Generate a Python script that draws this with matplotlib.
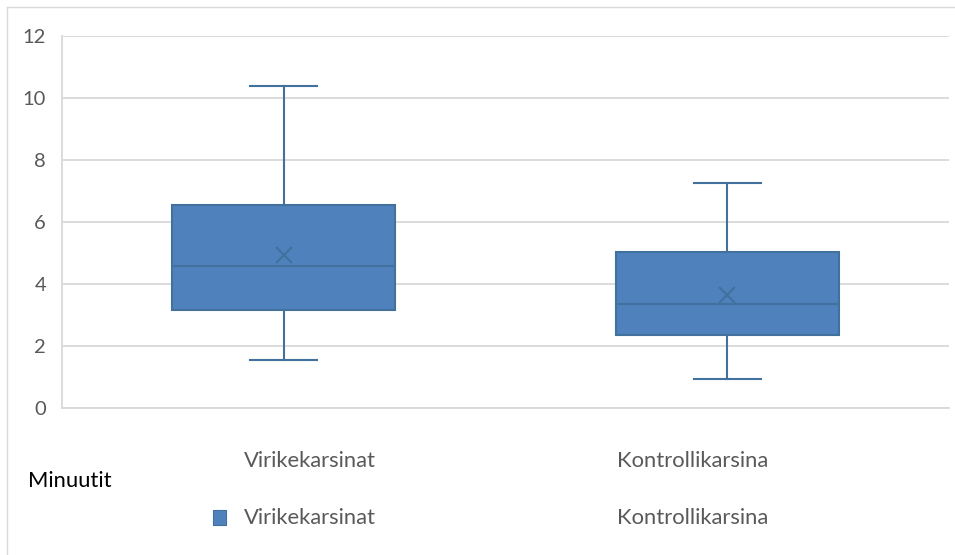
import matplotlib
matplotlib.use("Agg")
import matplotlib.pyplot as plt
from matplotlib.patches import Rectangle
from matplotlib.lines import Line2D

# Data (minutes)
categories = ["Virikekarsinat", "Kontrollikarsina"]
whisker_low = [1.55, 0.93]
q1 = [3.16, 2.35]
median = [4.59, 3.34]
q3 = [6.55, 5.04]
whisker_high = [10.39, 7.27]
means = [4.94, 3.65]
y_ticks = [0, 2, 4, 6, 8, 10, 12]
legend_labels = ["Virikekarsinat", "Kontrollikarsina"]
y_label = "Minuutit"

plt.rcParams['font.family'] = ['Lato', 'DejaVu Sans']

W, H = 955, 555
fig = plt.figure(figsize=(W / 100, H / 100), dpi=100)
ax = fig.add_axes([62 / W, 1 - 408 / H, (949 - 62) / W, (408 - 36) / H])

fill = "#4F81BD"
edge = "#41719C"
grey_text = "#595959"
grid_c = "#D9D9D9"
fs = 15.8

stats = []
for i, c in enumerate(categories):
    stats.append(dict(label=c, whislo=whisker_low[i], q1=q1[i], med=median[i],
                      q3=q3[i], whishi=whisker_high[i], mean=means[i], fliers=[]))

positions = [0.5 + i for i in range(len(categories))]
ax.bxp(stats, positions=positions, widths=0.503, capwidths=0.15, patch_artist=True,
       showmeans=True, manage_ticks=False,
       boxprops=dict(facecolor=fill, edgecolor=edge, linewidth=1.5),
       medianprops=dict(color=edge, linewidth=1.5),
       whiskerprops=dict(color=edge, linewidth=1.5),
       capprops=dict(color=edge, linewidth=1.5),
       meanprops=dict(marker="x", markeredgecolor=edge, markersize=12, markeredgewidth=1.5),
       zorder=3)

ax.set_xlim(0, 2)
ax.set_ylim(0, 12)
ax.set_yticks(y_ticks)
ax.set_yticklabels([str(t) for t in y_ticks])
ax.yaxis.grid(True, color=grid_c, linewidth=1.3, zorder=0)
ax.set_axisbelow(True)
for s in ["top", "right"]:
    ax.spines[s].set_visible(False)
ax.spines["left"].set_color(grid_c)
ax.spines["bottom"].set_color(grid_c)
ax.spines["left"].set_linewidth(1.3)
ax.spines["bottom"].set_linewidth(1.3)
ax.tick_params(axis="y", length=0, labelsize=14.5, labelcolor=grey_text, pad=11.5)
ax.set_xticks([])

# category labels (left-aligned like the reference)
cat_x = [244, 617]
for x, c in zip(cat_x, categories):
    fig.text(x / W, 1 - 461 / H, c, fontsize=fs, color=grey_text, va="center", ha="left")

fig.text(28 / W, 1 - 481 / H, y_label, fontsize=fs, color="#000000", va="center", ha="left")

# legend
fig.patches.append(Rectangle((213 / W, 1 - 525 / H), 13 / W, 15 / H, transform=fig.transFigure,
                             facecolor=fill, edgecolor=edge, linewidth=0.8))
fig.text(244 / W, 1 - 518 / H, legend_labels[0], fontsize=fs, color=grey_text, va="center", ha="left")
fig.text(617 / W, 1 - 518 / H, legend_labels[1], fontsize=fs, color=grey_text, va="center", ha="left")

# chart area frame (left & top)
fig.lines.append(Line2D([7 / W, 7 / W], [0, 1 - 7 / H], transform=fig.transFigure, color="#D9D9D9", linewidth=1))
fig.lines.append(Line2D([7 / W, 1], [1 - 7 / H, 1 - 7 / H], transform=fig.transFigure, color="#D9D9D9", linewidth=1))

fig.savefig("out.png", dpi=100)
